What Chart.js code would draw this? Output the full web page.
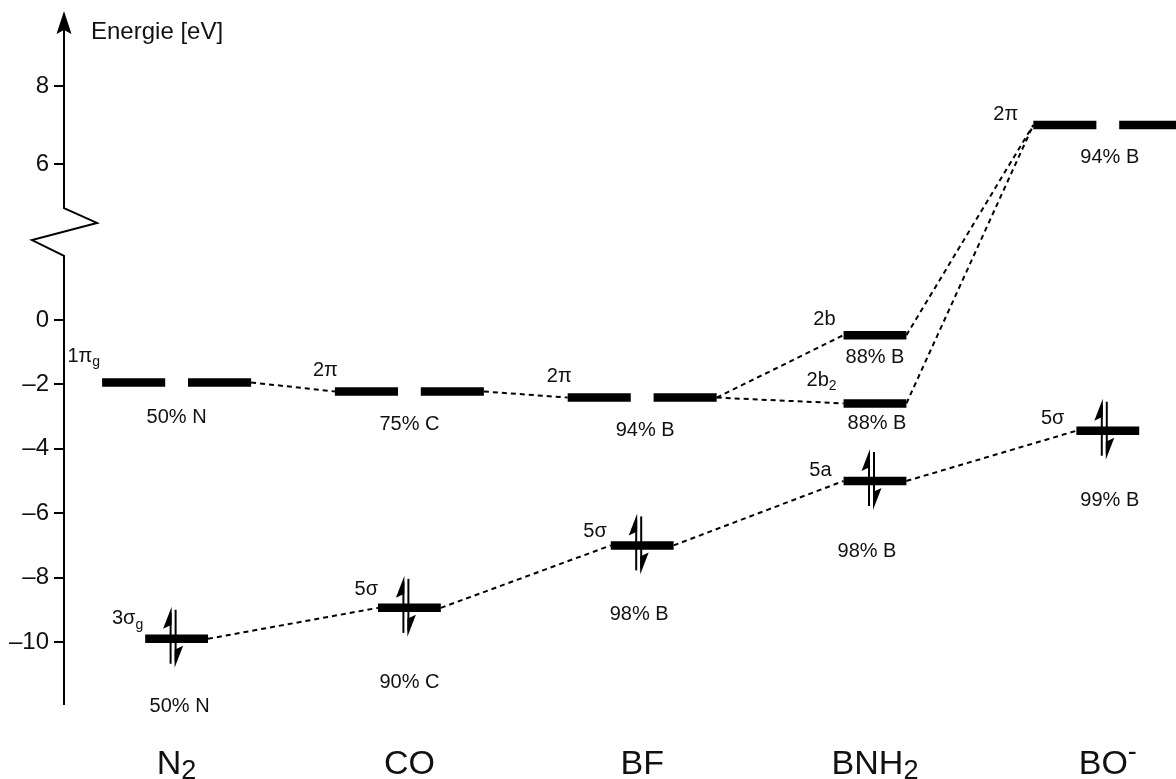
<!DOCTYPE html>
<html><head><meta charset="utf-8">
<script src="https://cdn.jsdelivr.net/npm/chart.js@4.4.1/dist/chart.umd.min.js"></script>
<style>html,body{margin:0;padding:0;background:#fff}#wrap{width:1176px;height:779px;position:relative}</style>
</head><body><div id="wrap"><canvas id="c"></canvas></div>
<script>
// ---------- data ----------
const categories = ['N_2', 'CO', 'BF', 'BNH_2', 'BO^-'];
const levelMolecule = [0, 0, 1, 1, 2, 2, 3, 3, 3, 4, 4];
const levelEnergy = [-1.94, -9.9, -2.22, -8.94, -2.41, -7.0, -0.47, -2.59, -5.0, 7.0, -3.44];
const levelName = ['1π_g', '3σ_g', '2π', '5σ', '2π', '5σ', '2b', '2b_2', '5a', '2π', '5σ'];
const levelComposition = ['50% N', '50% N', '75% C', '90% C', '94% B', '98% B', '88% B', '88% B', '98% B', '94% B', '99% B'];
const levelDegenerate = [true, false, true, false, true, false, false, false, false, true, false];
const levelOccupied = [false, true, false, true, false, true, false, false, true, false, true];
const linkFrom = [0, 2, 4, 4, 6, 7, 1, 3, 5, 8];
const linkTo   = [2, 4, 6, 7, 9, 9, 3, 5, 8, 10];
const yTickValues = [8, 6, 0, -2, -4, -6, -8, -10];
const axisLabel = 'Energie [eV]';

// ---------- layout / style ----------
const FONT = '"Liberation Sans", Arial, Helvetica, sans-serif';
const TEXT = '#111';
// label offsets in px: name -> [dx from level left end (right aligned), dy of text middle]
const nameOffset = [[-2,-26],[-2,-20],[3,-21],[0,-18],[4,-21],[-4,-14],[-8,-16],[-7,-23],[-12,-11],[-15,-11],[-12,-12]];
// composition -> [dx from level centre, dy of text middle]
const compOffset = [[0,35],[3,68],[0,33],[0,75],[3,33],[-3,69],[0,22],[2,20],[-8,70],[2,32],[2,70]];
const SINGLE_HALF = 0.135, PAIR_OUTER = 0.32, PAIR_INNER = 0.049;
const X_MIN = -0.4837, X_MAX = 4.293;
// broken energy axis: below the break 1 eV = 1 display unit, above it a stretched scale
const UPPER_K = 39 / 32.2, UPPER_C = -78 / 32.2, BREAK_E = 3;
function toDisplay(E) { return E > BREAK_E ? E * UPPER_K + UPPER_C : E; }
const Y_MIN = -14.255, Y_MAX = 9.938;
const AXIS_TOP_E = 9.9, BREAK_UP_E = 4.87, BREAK_LOW_E = 1.99, AXIS_BOTTOM_E = -11.96;

function halfWidth(i) { return levelDegenerate[i] ? PAIR_OUTER : SINGLE_HALF; }
function leftEnd(i) { return levelMolecule[i] - halfWidth(i); }
function rightEnd(i) { return levelMolecule[i] + halfWidth(i); }

const datasets = [];
levelEnergy.forEach((E, i) => {
  const m = levelMolecule[i];
  const segs = levelDegenerate[i] ? [[-PAIR_OUTER, -PAIR_INNER], [PAIR_INNER, PAIR_OUTER]] : [[-SINGLE_HALF, SINGLE_HALF]];
  segs.forEach(([a, b]) => datasets.push({
    data: [{x: m + a, y: toDisplay(E)}, {x: m + b, y: toDisplay(E)}],
    showLine: true, borderColor: '#000', borderWidth: 8.5, borderCapStyle: 'butt', pointRadius: 0
  }));
});
linkFrom.forEach((f, k) => {
  const t = linkTo[k];
  datasets.push({
    data: [{x: rightEnd(f), y: toDisplay(levelEnergy[f])}, {x: leftEnd(t), y: toDisplay(levelEnergy[t])}],
    showLine: true, borderColor: '#000', borderWidth: 2, borderDash: [5, 4], pointRadius: 0
  });
});

function parseRich(s) {
  const out = []; let i = 0;
  while (i < s.length) {
    const c = s[i];
    if ((c === '_' || c === '^') && i + 1 < s.length) { out.push({t: s[i + 1], k: c}); i += 2; }
    else { if (out.length && out[out.length - 1].k === 'n') out[out.length - 1].t += c; else out.push({t: c, k: 'n'}); i++; }
  }
  return out;
}
function drawRich(ctx, s, x, y, size, align, baseline, subScale, subShift) {
  subScale = subScale || 0.7; subShift = subShift || 0.3;
  const segs = parseRich(s);
  let w = 0;
  segs.forEach(g => { g.size = g.k === 'n' ? size : Math.round(size * subScale); ctx.font = g.size + 'px ' + FONT; g.w = ctx.measureText(g.t).width; w += g.w; });
  let sx = align === 'center' ? x - w / 2 : align === 'right' ? x - w : x;
  ctx.textAlign = 'left'; ctx.textBaseline = baseline;
  segs.forEach(g => {
    ctx.font = g.size + 'px ' + FONT;
    const dy = g.k === '_' ? size * subShift : g.k === '^' ? -size * 0.4 : 0;
    ctx.fillText(g.t, sx, y + dy); sx += g.w;
  });
}

const decor = {
  id: 'decor',
  afterDatasetsDraw(chart) {
    const ctx = chart.ctx, xs = chart.scales.x, ys = chart.scales.y;
    const px = v => xs.getPixelForValue(v);
    const py = E => ys.getPixelForValue(toDisplay(E));
    const L = chart.chartArea.left;
    ctx.save();
    // axis with break and arrow
    ctx.strokeStyle = '#000'; ctx.lineWidth = 2; ctx.lineJoin = 'miter';
    const yTop = py(AXIS_TOP_E), yb1 = py(BREAK_UP_E), yb2 = py(BREAK_LOW_E), yBot = py(AXIS_BOTTOM_E);
    const h = yb2 - yb1;
    ctx.beginPath();
    ctx.moveTo(L, yTop + 15); ctx.lineTo(L, yb1);
    ctx.lineTo(L + 33, yb1 + h * 0.31); ctx.lineTo(L - 32, yb1 + h * 0.67); ctx.lineTo(L, yb2);
    ctx.lineTo(L, yBot);
    ctx.stroke();
    ctx.fillStyle = '#000';
    ctx.beginPath();
    ctx.moveTo(L, yTop - 1); ctx.lineTo(L - 7.5, yTop + 22); ctx.lineTo(L, yTop + 18); ctx.lineTo(L + 7.5, yTop + 22); ctx.closePath();
    ctx.fill();
    ctx.fillStyle = TEXT;
    ctx.font = '24px ' + FONT; ctx.textAlign = 'left'; ctx.textBaseline = 'middle';
    ctx.fillText(axisLabel, L + 27, yTop + 20);

    // electrons
    ctx.lineWidth = 2; ctx.strokeStyle = '#000'; ctx.fillStyle = '#000';
    levelEnergy.forEach((E, i) => {
      if (!levelOccupied[i]) return;
      const cx = px(levelMolecule[i]), cy = py(E);
      const ux = cx - 6, uTop = cy - 32, uBot = cy + 25;
      ctx.beginPath(); ctx.moveTo(ux, uBot); ctx.lineTo(ux, uTop + 6); ctx.stroke();
      ctx.beginPath(); ctx.moveTo(ux + 1, uTop); ctx.lineTo(ux - 7.5, uTop + 22); ctx.lineTo(ux + 1, uTop + 18); ctx.closePath(); ctx.fill();
      const dx = cx - 1, dTop = cy - 29, dBot = cy + 29;
      ctx.beginPath(); ctx.moveTo(dx, dTop); ctx.lineTo(dx, dBot - 6); ctx.stroke();
      ctx.beginPath(); ctx.moveTo(dx - 1, dBot); ctx.lineTo(dx + 7.5, dBot - 22); ctx.lineTo(dx - 1, dBot - 18); ctx.closePath(); ctx.fill();
    });

    // labels
    ctx.fillStyle = TEXT;
    levelEnergy.forEach((E, i) => {
      const cy = py(E);
      const lx = px(leftEnd(i)), cx = px(levelMolecule[i]);
      drawRich(ctx, levelName[i], lx + nameOffset[i][0], cy + nameOffset[i][1], 20, 'right', 'middle');
      drawRich(ctx, levelComposition[i], cx + compOffset[i][0], cy + compOffset[i][1], 20, 'center', 'middle');
    });
    categories.forEach((c, i) => {
      drawRich(ctx, c, px(i), chart.chartArea.bottom - 5, 34, 'center', 'alphabetic', 0.8, 0.14);
    });
    ctx.restore();
  }
};

new Chart(document.getElementById('c'), {
  type: 'scatter',
  data: {datasets},
  options: {
    responsive: true, maintainAspectRatio: false, animation: false, events: [],
    layout: {padding: 0},
    plugins: {legend: {display: false}, tooltip: {enabled: false}},
    scales: {
      x: {type: 'linear', display: false, min: X_MIN, max: X_MAX},
      y: {
        type: 'linear', min: Y_MIN, max: Y_MAX,
        afterBuildTicks: s => { s.ticks = yTickValues.map(v => ({value: toDisplay(v)})); },
        afterFit: s => { s.width = 64; s.paddingTop = 0; s.paddingBottom = 0; },
        border: {display: false},
        grid: {drawOnChartArea: false, drawTicks: true, tickLength: 10, color: '#000', lineWidth: 2},
        ticks: {
          padding: 5, color: TEXT, font: {family: FONT, size: 24},
          callback: (val, idx) => { const v = yTickValues[idx]; return v < 0 ? '\u2013' + Math.abs(v) : String(v); }
        }
      }
    }
  },
  plugins: [decor]
});
</script></body></html>
